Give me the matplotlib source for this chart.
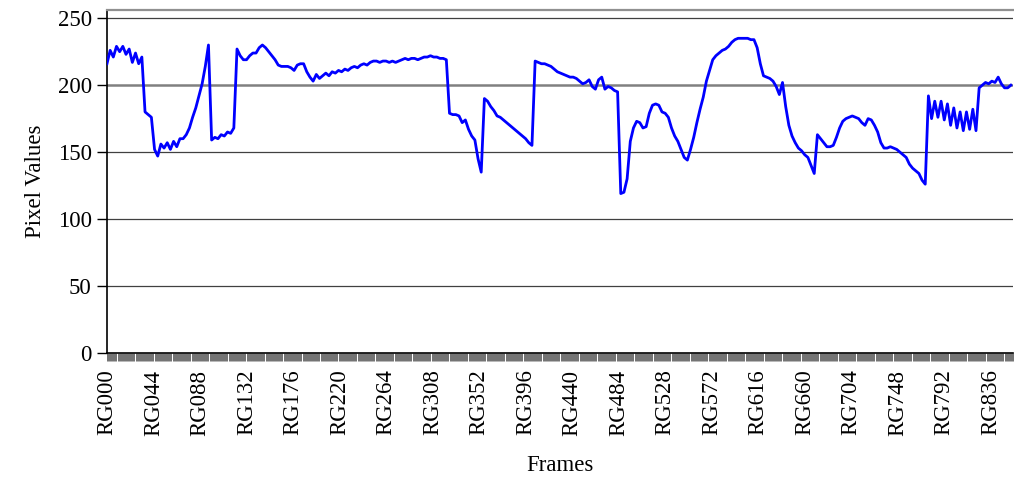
import matplotlib.pyplot as plt
import numpy as np

plt.rcParams['font.family'] = ['Liberation Serif', 'DejaVu Serif']

# frame index of each sample (every 3rd frame)
frames = list(range(0, 858, 3))
values = [
    216, 226, 221, 229, 225, 229, 223, 227, 217, 224, 216, 221,
    180, 178, 176, 152, 147, 156, 153, 157, 152, 158, 154, 160,
    160, 163, 168, 176, 183, 192, 201, 214, 230, 159, 161, 160,
    163, 162, 165, 164, 168, 227, 222, 219, 219, 222, 224, 224,
    228, 230, 228, 225, 222, 219, 215, 214, 214, 214, 213, 211,
    215, 216, 216, 210, 206, 203, 208, 205, 207, 209, 207, 210,
    209, 211, 210, 212, 211, 213, 214, 213, 215, 216, 215, 217,
    218, 218, 217, 218, 218, 217, 218, 217, 218, 219, 220, 219,
    220, 220, 219, 220, 221, 221, 222, 221, 221, 220, 220, 219,
    179, 178, 178, 177, 172, 174, 167, 162, 159, 145, 135, 190,
    188, 184, 181, 177, 176, 174, 172, 170, 168, 166, 164, 162,
    160, 157, 155, 218, 217, 216, 216, 215, 214, 212, 210, 209,
    208, 207, 206, 206, 205, 203, 201, 202, 204, 199, 197, 204,
    206, 197, 199, 198, 196, 195, 119, 120, 130, 158, 168, 173,
    172, 168, 169, 179, 185, 186, 185, 180, 179, 176, 168, 162,
    158, 152, 146, 144, 152, 161, 172, 182, 191, 203, 211, 219,
    222, 224, 226, 227, 229, 232, 234, 235, 235, 235, 235, 234,
    234, 228, 216, 207, 206, 205, 203, 199, 193, 202, 184, 170,
    162, 157, 153, 151, 148, 146, 140, 134, 163, 160, 157, 154,
    154, 155, 161, 168, 173, 175, 176, 177, 176, 175, 172, 170,
    175, 174, 170, 165, 157, 153, 153, 154, 153, 152, 150, 148,
    146, 141, 138, 136, 134, 129, 126, 192, 175, 188, 176, 188,
    174, 186, 170, 183, 168, 180, 166, 180, 167, 182, 166, 198,
    200, 202, 201, 203, 202, 206, 201, 198, 198, 200,
]
n_frames = 858
label_frames = list(range(0, n_frames, 44))
labels = ['RG%03d' % f for f in label_frames]

fig = plt.figure(figsize=(10.14, 4.86), dpi=100)
ax = fig.add_axes([0.1055, 0.274, 0.8935, 0.705])

ax.plot(frames, values, color='#0000FF', lw=2.0, zorder=3)

ax.set_xlim(0, n_frames - 1)
ax.set_ylim(0, 256)
ax.set_yticks([0, 50, 100, 150, 200, 250])
for v in [50, 100, 150, 250]:
    ax.axhline(v, color='#404040', lw=0.9, zorder=1)
ax.axhline(200, color='#808080', lw=1.8, zorder=1)

ax.set_xticks(label_frames)
ax.set_xticklabels(labels, rotation=90)
ax.set_xticks(np.arange(n_frames), minor=True)
ax.tick_params(axis='x', which='both', length=6, width=0.45, color='#222222',
               direction='out', labelsize=16.5, pad=6)
ax.tick_params(axis='y', length=7, width=1, labelsize=16.5, pad=4)

ax.spines['top'].set_color('#909090')
ax.spines['top'].set_linewidth(1.6)
ax.spines['right'].set_visible(False)
ax.spines['left'].set_linewidth(1.2)
ax.spines['bottom'].set_linewidth(1.2)

ax.set_ylabel('Pixel Values', fontsize=16.5, labelpad=8)
ax.set_xlabel('Frames', fontsize=16.5, labelpad=14)

plt.savefig('out.png', dpi=100)
